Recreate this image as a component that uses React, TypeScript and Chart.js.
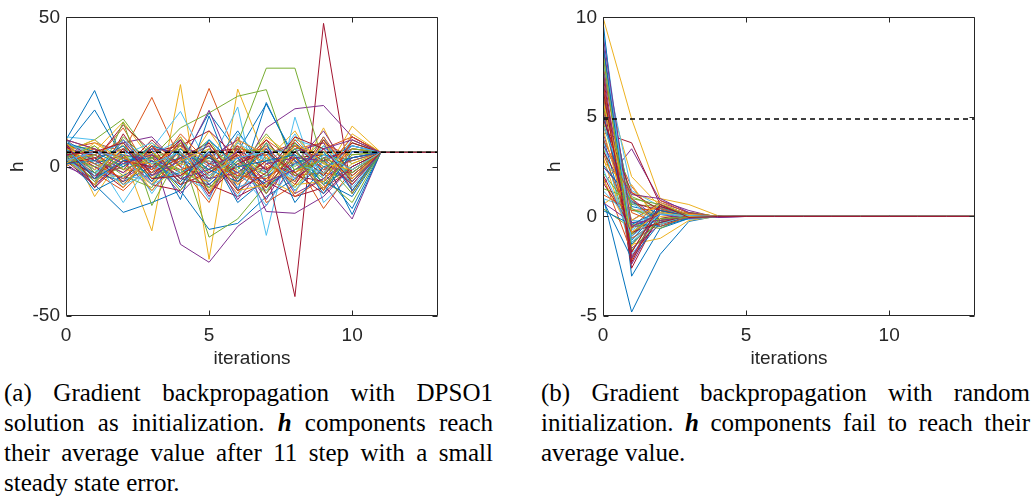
import React, { useEffect, useRef } from 'react';
import { Chart, registerables } from 'chart.js';

Chart.register(...registerables);

// ---------- data ----------
const iterations = [0, 1, 2, 3, 4, 5, 6, 7, 8, 9, 10, 11, 12, 13];
const lineColors = ['#0072BD', '#D95319', '#EDB120', '#7E2F8E', '#77AC30', '#4DBEEE', '#A2142F'];

// Panel (a): values at iterations 0..10, then converged tail for 11..13
const leftBlue = [
  [9, 25.5, 2, 4, 1, 18, 5, 21, 3, -2, -14],
  [7, 19, 3, -3, 2, -1, 12, -2, 8, 0, -5],
  [3, -6, -15.3, -12, -8, -21, -19, -10, -4, 3, -16],
  [5, -3, 1, 6, -11, 17, -8, 21.5, 2, -5, -10],
  [2, -2, -5, 0, 3, -7, 1, -6, -1, 4, 2],
  [6, 1, 4, -4, -2, 3, -2, 5, -8, 2, 7],
  [4, -8, -3, 2, -5, 5, -12, -4, 6, -6, 0],
  [8, 5, 0, 7, 4, -6, 3, -7, 1, 5, -8],
  [1, 2, 7, -5, 6, -1, -5, 8, -12, 0, 3],
  [6, -4, 2, 3, -7, 9, 0, 2, 4, -9, 5],
];
const leftOrange = [
  [6, 8, 5, 23.2, 2, 26.2, 3, -5, 7, 1, 8],
  [4, -2, -8, 1, 7, 0, -4, 9, 2, -14, -1],
  [8, 2, 13, -3, 5, -5, 10, -12, -6, 6, 10],
  [1, 3, -2, 5, -4, 8, -6, 2, -3, -2, -4],
  [5, -5, 2, -1, 8, -3, 5, -1, 6, 8, 3],
  [3, 6, -6, 4, -1, 2, -9, 4, -10, -4, 6],
  [7, -3, 4, -6, 3, -9, 5, 6, -2, 3, -6],
  [2, 4, 9, 0, -6, 4, -2, -7, 9, -1, 2],
  [5, 1, -4, 7, 0, -12, 7, 1, -5, 10, -3],
  [9, 6, 3, -2, 11, 1, -3, -4, 3, -8, 9],
];
const leftYellow = [
  [10, -10, 4, -21.5, 27.5, -31, 26, 2, 12, -3, 13.6],
  [7, 5, 15, 2, -3, 12, -2, 6, -5, 13, -6],
  [2, -4, -3, 8, 1, -2, 3, -8, 4, 0, -2],
  [5, 9, 1, -6, 10, -8, 8, 0, -2, 5, 4],
  [4, 1, 6, 3, -5, 4, -3, 10, 3, -7, 1],
  [0, 7, -1, -2, 3, 7, 1, -4, -9, 9, -8],
  [3, -6, 8, -4, 6, 2, -6, 7, 1, -2, 6],
  [6, 3, -7, 5, -2, -5, 4, -3, 7, 4, -4],
  [1, 8, 2, 1, 7, -9, 9, 4, -6, -5, 11],
  [8, -1, 5, -8, 2, 6, -8, -6, 10, 1, -1],
];
const leftPurple = [
  [3, -3, 0, 5, -26, -32, -20, -13, 2, -6, -17.5],
  [6, 4, 8, 10, 0, 18.9, -4, 13, 19.4, 20.5, 10],
  [1, -6, 2, -8, 4, -10, 6, -15, -15.6, -10, 0],
  [8, 3, 6, -1, 7, 3, 9, 4, 7, -1, 7],
  [4, 0, -4, 2, -3, 5, -7, -3, 1, 12, -3],
  [2, 5, 3, -5, 9, -6, 2, 7, -4, 3, 5],
  [5, -7, 4, 2, -9, 1, 3, -11, 5, 8, -8],
  [7, 2, -2, 6, 5, -4, -2, 6, -9, -4, 3],
  [0, -4, 9, -3, 2, 7, -11, 1, 3, 2, -6],
  [9, 6, 1, 4, -4, -1, 5, -5, -1, 6, 9],
];
const leftGreen = [
  [5, 9, 16, 3, 13, 18, 23.6, 25.8, -2, 7, 1],
  [4, 2, 7, -1, 10, -4, 8, 33, 33, 1, -3],
  [6, -7, 15, -13, 5, -23.6, -17.5, -6, 3, -4, -12],
  [2, -4, 0, 7, -2, 3, -1, 11, 0, 9, -5],
  [7, 6, -6, 3, 6, -1, 4, -2, 5, -3, 8],
  [3, 0, 4, -4, 1, 9, -5, 3, -7, 5, -1],
  [8, -2, 3, 5, -4, 6, 0, -9, 8, -6, 4],
  [1, 4, -3, -7, 8, -2, 6, 5, -3, 3, -2],
  [5, -5, 10, 1, -1, -7, 2, -3, 6, -8, 6],
  [3, 7, -1, 3, -8, 4, -4, 8, -1, 2, -9],
];
const leftCyan = [
  [10, 9, 2, 6, 18.5, 0, 20, -23, 16.6, -12, -3],
  [7, -2, 6, -9, 4, -11, 11, 1, 9, 6, 4],
  [4, 3, -12, 2, -6, 6, -3, -8, 2, -3, 9],
  [1, 6, 1, 4, 9, -2, 5, 3, -5, 10, -7],
  [5, -1, -4, -3, 2, 4, -10, 6, 4, -1, 2],
  [8, 4, 8, 0, -3, -8, 2, -2, 6, 2, -2],
  [3, -5, 4, 8, -2, 2, -7, -3, 11, -4, 3],
  [9, 1, -6, -2, 6, -5, 8, 2, -4, 7, -5],
  [2, 5, 3, -6, -1, 9, -1, -13, 1, -2, 7],
  [6, -3, 9, 1, 5, -3, 3, 5, -8, 4, -1],
];
const leftRed = [
  [4, -1, 5, 3, -2, 3, -3, 0, -43.5, 48, -9],
  [9, 2, 14, 5, 7, 12, 3, 4, 8, -2, 10],
  [6, 0, -7, 4, -4, -6, -10, -5, -10, -7, -1],
  [2, -6, 11, -3, 6, 1, 7, -9, 3, 4, -4],
  [5, 4, -1, 9, 0, -4, 0, 9, -3, -5, 3],
  [3, -3, 3, -6, -8, 5, 6, -1, 7, 2, 6],
  [7, -4, 6, -2, 3, 8, -5, 2, -6, 9, -2],
  [1, 3, -5, 7, -6, -2, 4, -7, 5, -3, 8],
  [8, -7, 2, 0, 9, -9, 1, 5, -2, -9, 0],
  [4, 5, 8, -4, -3, 4, -8, -2, 10, 6, -5],
];
const leftTail = [4.8, 4.8, 4.8];
const leftAverage = 4.8;

// Panel (b): values at iterations 0..5, then zero tail for 6..13
const rightBlue = [
  [1, -4.8, -1.9, -0.25, 0.02, 0],
  [9.8, -3, -0.6, -0.1, 0.01, 0],
  [0.8, -2.1, -0.3, 0.15, 0, 0],
  [7.5, 0.5, 0.2, -0.05, 0, 0],
  [4, -1.2, 0.4, 0.05, 0, 0],
  [6, -0.3, -0.5, -0.1, 0, 0],
  [5.2, -0.9, 0.6, 0.1, 0, 0],
  [2.6, 0.8, -0.3, -0.1, 0, 0],
  [8.6, -1.4, 0.1, 0.05, 0, 0],
  [0.3, -0.4, 0.3, 0, 0, 0],
];
const rightOrange = [
  [8.2, -0.8, 0.3, 0.1, 0, 0],
  [4.5, 1.5, -0.2, 0, 0, 0],
  [2, -1.8, 0.5, -0.1, 0, 0],
  [6.5, 0.2, -0.4, 0.05, 0, 0],
  [3.2, -0.5, 0.1, 0.2, 0, 0],
  [5.5, -2.2, 0.6, 0, 0, 0],
  [7.7, -1.1, -0.2, 0.1, 0, 0],
  [1.1, 0.3, 0.4, -0.05, 0, 0],
  [6.1, -0.6, 0.8, 0.15, 0, 0],
  [3.9, 0.9, -0.5, 0, 0, 0],
];
const rightYellow = [
  [10, 4.9, 0.9, 0.6, 0.05, 0],
  [3, -1.4, -1.1, -0.2, 0, 0],
  [7, 2, 0.5, 0.1, 0, 0],
  [1.9, -0.9, 0, -0.1, 0, 0],
  [5, 0.8, -0.3, 0.2, 0, 0],
  [2.8, 1.2, 0.7, 0.05, 0, 0],
  [8.3, -1.5, 0.3, -0.1, 0, 0],
  [0.6, 1.6, -0.4, 0.1, 0, 0],
  [5.8, -0.2, 0.6, 0.1, 0, 0],
  [4.4, -0.8, 0.2, 0, 0, 0],
];
const rightPurple = [
  [1.6, 3.4, 0.8, 0.3, -0.05, 0],
  [6.8, -2.4, 0.2, -0.1, 0, 0],
  [4.2, -0.2, 0.7, 0.2, 0, 0],
  [8.8, -1.6, -0.4, 0, 0, 0],
  [2.5, 0.9, -0.2, 0.1, 0, 0],
  [5.2, -1, 0.4, -0.05, 0, 0],
  [7.4, -2.1, 0.5, 0.05, 0, 0],
  [3.6, 1.1, 0.9, 0.2, -0.05, 0],
  [0.7, -0.3, -0.2, 0, 0, 0],
  [9.1, -0.5, 0.1, -0.1, 0, 0],
];
const rightGreen = [
  [5.5, 1, 0.4, 0.1, 0, 0],
  [0.4, -0.6, 0.2, 0, 0, 0],
  [3.5, -1.3, -0.3, 0.1, 0, 0],
  [7.2, 0.6, 0.5, -0.1, 0, 0],
  [4.8, -0.4, -0.6, 0.05, 0, 0],
  [2.2, 0.3, 0.1, 0.2, 0, 0],
  [6.2, -0.9, 0.3, 0.05, 0, 0],
  [5.6, 0.4, -0.2, 0.1, 0, 0],
  [1.4, 0.9, 0.6, 0, 0, 0],
  [8.1, -1.7, -0.1, -0.05, 0, 0],
];
const rightCyan = [
  [9.5, -1.1, -0.2, -0.05, 0, 0],
  [0.9, 0.4, -0.5, 0.1, 0, 0],
  [6.3, -0.7, 0.3, 0, 0, 0],
  [3.8, -1.9, -0.1, -0.15, 0, 0],
  [8, 1.3, 0.5, 0.1, 0, 0],
  [1.3, -0.2, -0.3, 0, 0, 0],
  [7.9, -0.6, 0.4, 0, 0, 0],
  [4.6, 0.7, -0.4, 0.1, 0, 0],
  [9.2, -1.3, 0.2, -0.1, 0, 0],
  [2.4, -1, 0.1, 0.05, 0, 0],
];
const rightRed = [
  [4.2, 3.7, 0.6, 0.1, 0, 0],
  [6.7, -2.6, 0.2, -0.1, 0, 0],
  [8.5, -0.9, 0.4, 0.05, 0, 0],
  [1.7, -0.5, -0.4, 0, 0, 0],
  [5.8, -2, -0.1, 0.15, 0, 0],
  [3.3, 0.7, 0.3, -0.05, 0, 0],
  [7.1, -2.3, 0.5, 0.1, 0, 0],
  [4.9, 1.2, 0.3, 0, 0, 0],
  [2.1, -0.8, -0.3, 0.05, 0, 0],
  [6.4, -1.8, 0.6, -0.05, 0, 0],
];
const rightTail = [0, 0, 0, 0, 0, 0, 0, 0];
const rightAverage = 4.9;

const leftTicksY = { min: -50, max: 50, step: 50 };
const rightTicksY = { min: -5, max: 10, step: 5 };

// ---------- drawing ----------
const AXIS = '#262626';
const SANS = '"Liberation Sans", Arial, Helvetica, sans-serif';

const boxTicks = {
  id: 'boxTicks',
  afterDatasetsDraw(chart: any) {
    const { ctx, chartArea: a, scales } = chart;
    const L = Math.round(a.left) + 0.5;
    const R = Math.round(a.right) - 0.5;
    const T = Math.round(a.top) + 0.5;
    const B = Math.round(a.bottom) - 0.5;
    ctx.save();
    ctx.strokeStyle = AXIS;
    ctx.lineWidth = 1;
    ctx.beginPath();
    ctx.rect(L, T, R - L, B - T);
    const len = 5;
    scales.x.ticks.forEach((t: any) => {
      const px = Math.round(scales.x.getPixelForValue(t.value)) + 0.5;
      ctx.moveTo(px, B);
      ctx.lineTo(px, B - len);
      ctx.moveTo(px, T);
      ctx.lineTo(px, T + len);
    });
    scales.y.ticks.forEach((t: any) => {
      const py = Math.round(scales.y.getPixelForValue(t.value)) + 0.5;
      ctx.moveTo(L, py);
      ctx.lineTo(L + len, py);
      ctx.moveTo(R, py);
      ctx.lineTo(R - len, py);
    });
    ctx.stroke();
    ctx.restore();
  },
};

function interleave(groups: number[][][]) {
  const out: { row: number[]; color: string }[] = [];
  const n = groups[0].length;
  for (let i = 0; i < n; i++) {
    groups.forEach((g, c) => out.push({ row: g[i], color: lineColors[c] }));
  }
  return out;
}

function Panel({ groups, tail, avg, yt, left }: any) {
  const ref = useRef<HTMLCanvasElement>(null);
  useEffect(() => {
    const lines: any[] = interleave(groups).map(({ row, color }) => {
      const vals = row.concat(tail);
      return {
        data: iterations.map((x, k) => ({ x, y: vals[k] })),
        borderColor: color,
        borderWidth: 1,
        pointRadius: 0,
        tension: 0,
        fill: false,
      };
    });
    const dashed = {
      data: [
        { x: iterations[0], y: avg },
        { x: iterations[iterations.length - 1], y: avg },
      ],
      borderColor: '#000000',
      borderDash: [5, 4],
      borderWidth: 1.5,
      pointRadius: 0,
      fill: false,
    };
    // Chart.js paints dataset 0 last (on top): put the dashed line first,
    // then the lines in reverse plotting order.
    const datasets = [dashed, ...lines.reverse()];
    const chart = new Chart(ref.current as HTMLCanvasElement, {
      type: 'line',
      data: { datasets },
      plugins: [boxTicks],
      options: {
        animation: false,
        responsive: false,
        devicePixelRatio: 1,
        layout: { padding: { top: 15, right: 12, left: 0, bottom: 0 } },
        plugins: { legend: { display: false }, tooltip: { enabled: false } },
        scales: {
          x: {
            type: 'linear',
            min: 0,
            max: 13,
            grid: { display: false, drawTicks: false, tickLength: 0 },
            border: { display: false },
            ticks: {
              stepSize: 5,
              includeBounds: false,
              padding: 8,
              maxRotation: 0,
              color: AXIS,
              font: { family: SANS, size: 19 },
            },
            title: {
              display: true,
              text: 'iterations',
              color: AXIS,
              font: { family: SANS, size: 19 },
              padding: { top: 0, bottom: 0 },
            },
            afterFit: (s: any) => {
              s.height = 54;
            },
          },
          y: {
            type: 'linear',
            min: yt.min,
            max: yt.max,
            grid: { display: false, drawTicks: false, tickLength: 0 },
            border: { display: false },
            ticks: {
              stepSize: yt.step,
              includeBounds: false,
              padding: 6,
              color: AXIS,
              font: { family: SANS, size: 19 },
            },
            title: {
              display: true,
              text: 'h',
              color: AXIS,
              font: { family: SANS, size: 19 },
              padding: { top: 6, bottom: 0 },
            },
            afterFit: (s: any) => {
              s.width = 66;
            },
          },
        },
      } as any,
    });
    return () => chart.destroy();
  }, []);
  return (
    <canvas
      ref={ref}
      width={450}
      height={370}
      style={{ position: 'absolute', left, top: 0, width: 450, height: 370, display: 'block' }}
    />
  );
}

const capStyle: React.CSSProperties = {
  position: 'absolute',
  top: 378,
  fontFamily: '"Liberation Serif", "Times New Roman", serif',
  fontSize: 25,
  lineHeight: '30px',
  color: '#000',
};
const just: React.CSSProperties = { textAlign: 'justify', textAlignLast: 'justify' as any };
const H = () => (
  <b>
    <i>h</i>
  </b>
);

export default function App() {
  return (
    <div style={{ position: 'fixed', left: 0, top: 0, width: 1035, height: 500, background: '#fff', overflow: 'hidden' }}>
      <Panel
        groups={[leftBlue, leftOrange, leftYellow, leftPurple, leftGreen, leftCyan, leftRed]}
        tail={leftTail}
        avg={leftAverage}
        yt={leftTicksY}
        left={0}
      />
      <Panel
        groups={[rightBlue, rightOrange, rightYellow, rightPurple, rightGreen, rightCyan, rightRed]}
        tail={rightTail}
        avg={rightAverage}
        yt={rightTicksY}
        left={537}
      />
      <div style={{ ...capStyle, left: 4, width: 489 }}>
        <div style={just}>(a) Gradient backpropagation with DPSO1</div>
        <div style={just}>
          solution as initialization. <H /> components reach
        </div>
        <div style={just}>their average value after 11 step with a small</div>
        <div>steady state error.</div>
      </div>
      <div style={{ ...capStyle, left: 541, width: 489 }}>
        <div style={just}>(b) Gradient backpropagation with random</div>
        <div style={just}>
          initialization. <H /> components fail to reach their
        </div>
        <div>average value.</div>
      </div>
    </div>
  );
}
